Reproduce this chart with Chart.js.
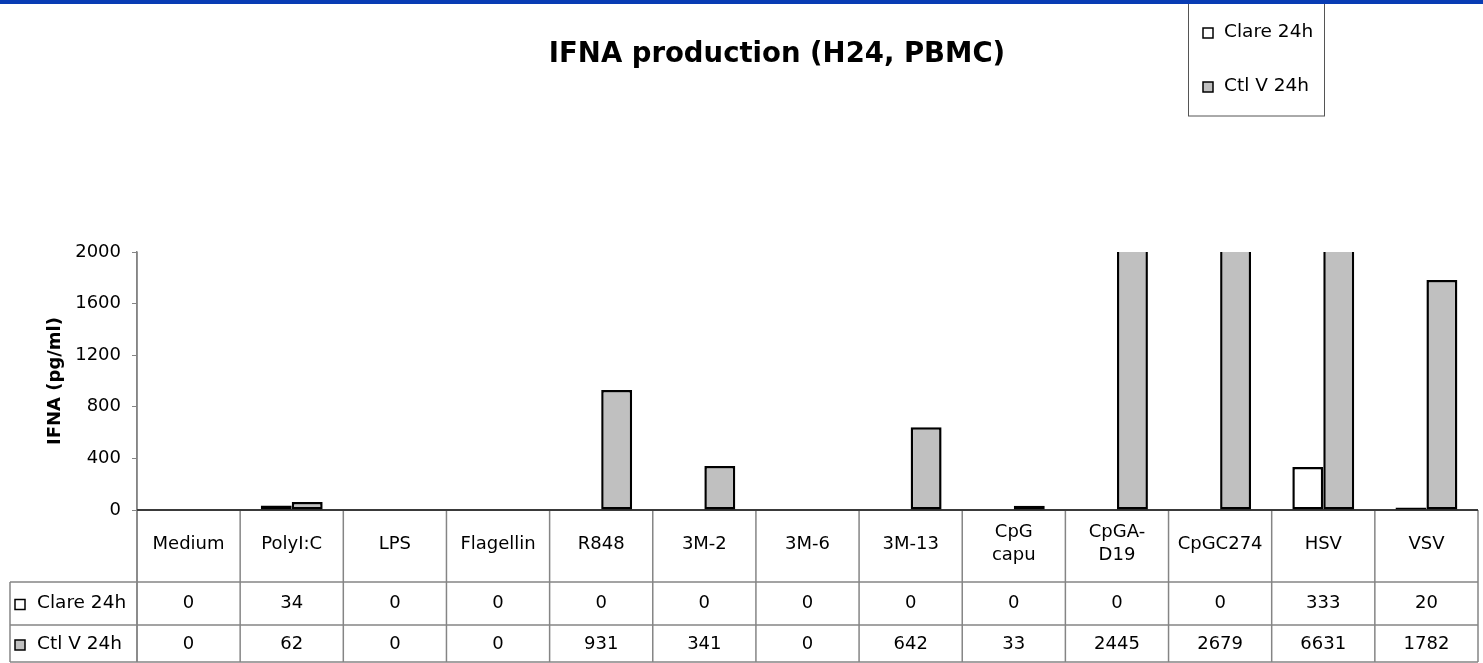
<!DOCTYPE html>
<html>
<head>
<meta charset="utf-8">
<title>IFNA production (H24, PBMC)</title>
<script src="https://cdn.jsdelivr.net/npm/chart.js@4.4.1/dist/chart.umd.min.js"></script>
<style>
  html, body { margin: 0; padding: 0; background: #ffffff; }
  #wrap { position: relative; width: 1483px; height: 663px; }
</style>
</head>
<body>
<div id="wrap"><canvas id="chart"></canvas></div>
<script>
// Stimuli (multi-line entries are wrapped in the data table header)
const categories = [
  ['Medium'], ['PolyI:C'], ['LPS'], ['Flagellin'], ['R848'], ['3M-2'], ['3M-6'],
  ['3M-13'], ['CpG', 'capu'], ['CpGA-', 'D19'], ['CpGC274'], ['HSV'], ['VSV']
];
const seriesNames = ['Clare 24h', 'Ctl V 24h'];
// IFNA concentrations, pg/ml
const clare24h = [0, 34, 0, 0, 0, 0, 0, 0, 0, 0, 0, 333, 20];
const ctlV24h  = [0, 62, 0, 0, 931, 341, 0, 642, 33, 2445, 2679, 6631, 1782];
const yTickValues = [0, 400, 800, 1200, 1600, 2000];
const chartTitle = 'IFNA production (H24, PBMC)';
const yAxisTitle = 'IFNA (pg/ml)';

const FONT = '"DejaVu Sans", "Liberation Sans", sans-serif';
const seriesFill = ['#ffffff', '#c0c0c0'];
const seriesValues = [clare24h, ctlV24h];

function line(ctx, x1, y1, x2, y2) {
  ctx.beginPath();
  ctx.moveTo(x1, y1);
  ctx.lineTo(x2, y2);
  ctx.stroke();
}

function marker(ctx, x, y, fill) {
  ctx.save();
  ctx.fillStyle = fill;
  ctx.strokeStyle = '#000000';
  ctx.lineWidth = 1.5;
  ctx.fillRect(x, y, 10, 10);
  ctx.strokeRect(x, y, 10, 10);
  ctx.restore();
}

// Data table grid and category axis line, drawn beneath the bars
const tableGrid = {
  id: 'tableGrid',
  beforeDatasetsDraw(chart) {
    const { ctx, chartArea: a, scales: { x } } = chart;
    const n = categories.length;
    const step = x.getPixelForValue(1) - x.getPixelForValue(0);
    const edge = i => x.getPixelForValue(0) - step / 2 + i * step;
    const headBottom = a.bottom + 72;
    const row1Bottom = headBottom + 43;
    const row2Bottom = row1Bottom + 37;
    const labelLeft = 10;

    ctx.save();
    ctx.strokeStyle = '#858585';
    ctx.lineWidth = 1.5;
    for (let i = 0; i <= n; i++) {
      line(ctx, edge(i), a.bottom, edge(i), row2Bottom);
    }
    line(ctx, labelLeft, headBottom, a.right, headBottom);
    line(ctx, labelLeft, row1Bottom, a.right, row1Bottom);
    line(ctx, labelLeft, row2Bottom, a.right, row2Bottom);
    line(ctx, labelLeft, headBottom, labelLeft, row2Bottom);
    line(ctx, a.left, a.top, a.left, row2Bottom);

    ctx.strokeStyle = '#3a3a3a';
    ctx.lineWidth = 2;
    line(ctx, a.left, a.bottom, a.right, a.bottom);
    ctx.restore();
  }
};

// Title, legend box, top band and the data table text
const decorations = {
  id: 'decorations',
  afterDraw(chart) {
    const { ctx, chartArea: a, scales: { x } } = chart;
    const headBottom = a.bottom + 72;
    const row1Bottom = headBottom + 43;

    ctx.save();

    // header labels
    ctx.fillStyle = '#000000';
    ctx.font = '18px ' + FONT;
    ctx.textAlign = 'center';
    ctx.textBaseline = 'middle';
    categories.forEach((lines, i) => {
      const cx = x.getPixelForValue(i);
      if (lines.length === 1) {
        ctx.fillText(lines[0], cx, a.bottom + 34);
      } else {
        ctx.fillText(lines[0], cx, a.bottom + 22);
        ctx.fillText(lines[1], cx, a.bottom + 45);
      }
    });

    // value rows
    const rowCenters = [headBottom + 21.5, row1Bottom + 19];
    seriesValues.forEach((vals, s) => {
      vals.forEach((v, i) => {
        ctx.fillText(String(v), x.getPixelForValue(i), rowCenters[s]);
      });
      marker(ctx, 15, rowCenters[s] - 4, seriesFill[s]);
      ctx.textAlign = 'left';
      ctx.font = '18.5px ' + FONT;
      ctx.fillText(seriesNames[s], 37, rowCenters[s]);
      ctx.textAlign = 'center';
      ctx.font = '18px ' + FONT;
    });

    // chart title
    ctx.font = 'bold 27.5px ' + FONT;
    ctx.textAlign = 'center';
    ctx.textBaseline = 'alphabetic';
    ctx.fillText(chartTitle, 777, 62);

    // legend box
    ctx.strokeStyle = '#555555';
    ctx.lineWidth = 1;
    ctx.fillStyle = '#ffffff';
    ctx.fillRect(1188, 3, 136, 113);
    ctx.strokeRect(1188.5, 3.5, 136, 112.5);
    const legendY = [32, 86];
    ctx.font = '18.5px ' + FONT;
    ctx.textAlign = 'left';
    ctx.textBaseline = 'middle';
    seriesNames.forEach((name, s) => {
      marker(ctx, 1203, legendY[s] - 4, seriesFill[s]);
      ctx.fillStyle = '#000000';
      ctx.fillText(name, 1224, legendY[s]);
    });

    // top band
    ctx.fillStyle = '#083cb4';
    ctx.fillRect(0, 0, chart.width, 4);

    ctx.restore();
  }
};

new Chart(document.getElementById('chart'), {
  type: 'bar',
  data: {
    labels: categories,
    datasets: seriesNames.map((name, s) => ({
      label: name,
      data: seriesValues[s],
      backgroundColor: seriesFill[s],
      borderColor: '#000000',
      borderWidth: 2.5,
      borderSkipped: false,
      categoryPercentage: 0.6,
      barPercentage: 1.0,
      clip: 0
    }))
  },
  options: {
    responsive: true,
    maintainAspectRatio: false,
    animation: false,
    events: [],
    layout: { padding: { top: 252, left: 0, right: 5, bottom: 153 } },
    plugins: {
      legend: { display: false },
      title: { display: false },
      tooltip: { enabled: false }
    },
    scales: {
      x: { display: false },
      y: {
        min: 0,
        max: 2000,
        afterFit(scale) { scale.width = 137; },
        afterBuildTicks(scale) { scale.ticks = yTickValues.map(v => ({ value: v })); },
        border: { display: true, color: '#858585', width: 1.5 },
        grid: { display: true, drawOnChartArea: false, drawTicks: true, tickLength: 5, color: '#858585', lineWidth: 1 },
        ticks: {
          color: '#000000',
          padding: 11,
          font: { family: FONT, size: 18 },
          callback: v => String(v)
        },
        title: {
          display: true,
          text: yAxisTitle,
          color: '#000000',
          font: { family: FONT, size: 18, weight: 'bold' },
          padding: { top: 45, bottom: 0 }
        }
      }
    }
  },
  plugins: [tableGrid, decorations]
});
</script>
</body>
</html>
